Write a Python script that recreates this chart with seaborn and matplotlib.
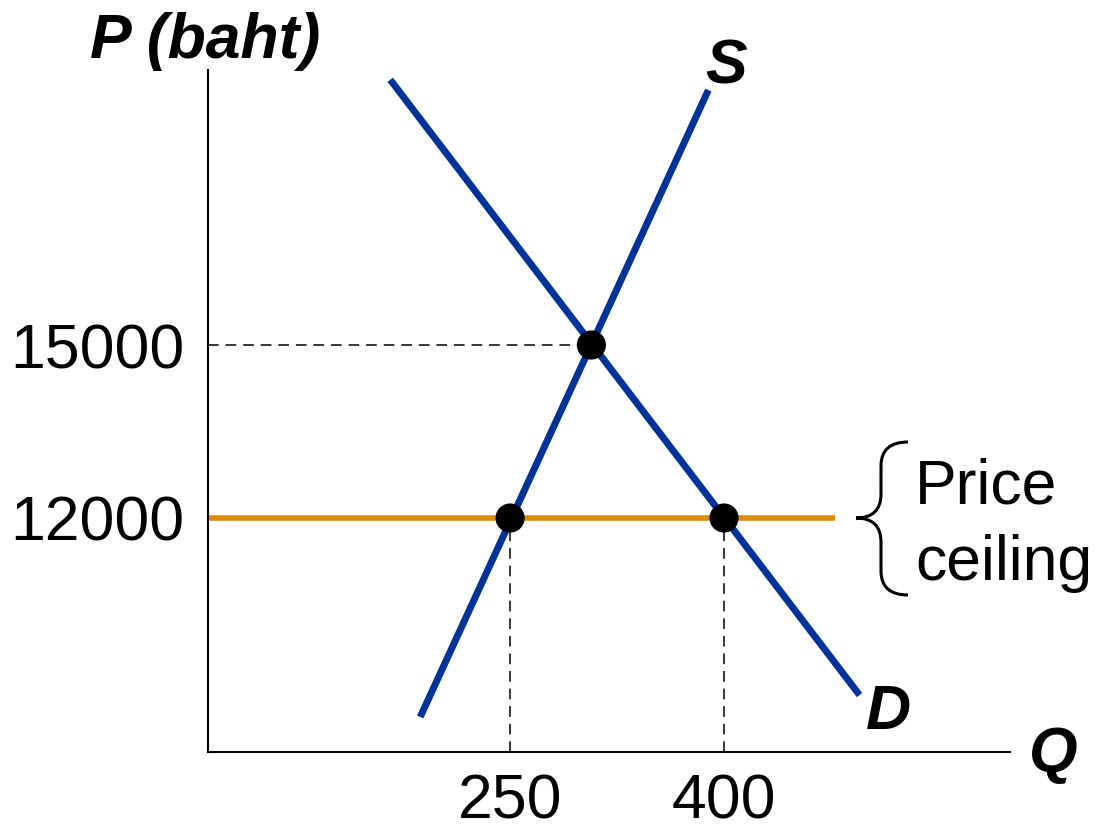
import matplotlib
matplotlib.use("Agg")
import matplotlib.pyplot as plt
import seaborn as sns
from matplotlib.path import Path
from matplotlib.patches import PathPatch

sns.set_theme(style="white")
plt.rcParams['font.family'] = ['Liberation Sans', 'DejaVu Sans']

# ---- data ----
supply_q = [187, 389]
supply_p = [8550, 19420]
demand_q = [166, 495]
demand_p = [19600, 8930]
ceiling_q = [38, 478]
ceiling_p = [12000, 12000]
points_q = [307, 250, 400]
points_p = [15000, 12000, 12000]
x_ticks = [250, 400]
x_tick_labels = ["250", "400"]
y_ticks = [12000, 15000]
y_tick_labels = ["12000", "15000"]

W, H = 1096, 826
fig = plt.figure(figsize=(W / 100, H / 100), dpi=100)
ax_l, ax_r, ax_t, ax_b = 208, 1010, 70, 752
ax = fig.add_axes([ax_l / W, 1 - ax_b / H, (ax_r - ax_l) / W, (ax_b - ax_t) / H])

BLUE = "#003399"
ORANGE = "#E08A00"

xlim = (38.2, 600.5)
ylim = (7942, 19769)

# dashed guides
ax.plot([xlim[0], points_q[0]], [points_p[0], points_p[0]], color="black", lw=1.1, ls=(0, (7, 4.5)), zorder=1)
for q in points_q[1:]:
    ax.plot([q, q], [ylim[0], 12000], color="black", lw=1.1, ls=(0, (7, 4.5)), zorder=1)

sns.lineplot(x=ceiling_q, y=ceiling_p, ax=ax, color=ORANGE, lw=4, zorder=2, solid_capstyle="butt")
sns.lineplot(x=supply_q, y=supply_p, ax=ax, color=BLUE, lw=5, zorder=3, solid_capstyle="butt")
sns.lineplot(x=demand_q, y=demand_p, ax=ax, color=BLUE, lw=5, zorder=3, solid_capstyle="butt")
sns.scatterplot(x=points_q, y=points_p, ax=ax, color="black", s=440, zorder=4, edgecolor="none")

ax.set_xlim(*xlim)
ax.set_ylim(*ylim)
ax.set_xticks(x_ticks)
ax.set_xticklabels(x_tick_labels)
ax.set_yticks(y_ticks)
ax.set_yticklabels(y_tick_labels)
ax.tick_params(axis="both", length=0, labelsize=45, colors="black")
ax.tick_params(axis="y", pad=17)
ax.tick_params(axis="x", pad=15)
for side in ["top", "right"]:
    ax.spines[side].set_visible(False)
for side in ["left", "bottom"]:
    ax.spines[side].set_color("black")
    ax.spines[side].set_linewidth(1.5)
ax.set_facecolor("white")
ax.grid(False)


def fx(px):
    return px / W


def fy(py):
    return 1 - py / H


lab = dict(fontsize=45, fontweight="bold", fontstyle="italic", color="black")
fig.text(fx(205), fy(58), "P (baht)", ha="center", va="baseline", **lab)
fig.text(fx(726), fy(84), "S", ha="center", va="baseline", **lab)
fig.text(fx(888), fy(729), "D", ha="center", va="baseline", **lab)
fig.text(fx(1053), fy(771), "Q", ha="center", va="baseline", **lab)

fig.text(fx(915), fy(503), "Price", ha="left", va="baseline", fontsize=45, color="black")
fig.text(fx(915), fy(580), "ceiling", ha="left", va="baseline", fontsize=45, color="black")

# curly brace
bx0, bx1 = 856, 908
yt, ym, yb = 442, 518, 595
xm = 881
verts = [
    (bx1, yt),
    (xm, yt), (xm, yt + 24),
    (xm, ym - 24),
    (xm, ym), (bx0, ym),
    (xm, ym), (xm, ym + 24),
    (xm, yb - 24),
    (xm, yb), (bx1, yb),
]
verts_f = [(fx(x), fy(y)) for x, y in verts]
codes = [Path.MOVETO,
         Path.CURVE3, Path.CURVE3,
         Path.LINETO,
         Path.CURVE3, Path.CURVE3,
         Path.CURVE3, Path.CURVE3,
         Path.LINETO,
         Path.CURVE3, Path.CURVE3]
brace = PathPatch(Path(verts_f, codes), transform=fig.transFigure, fill=False, lw=2.2, color="black")
fig.add_artist(brace)

fig.savefig("out.png", dpi=100, facecolor="white")
